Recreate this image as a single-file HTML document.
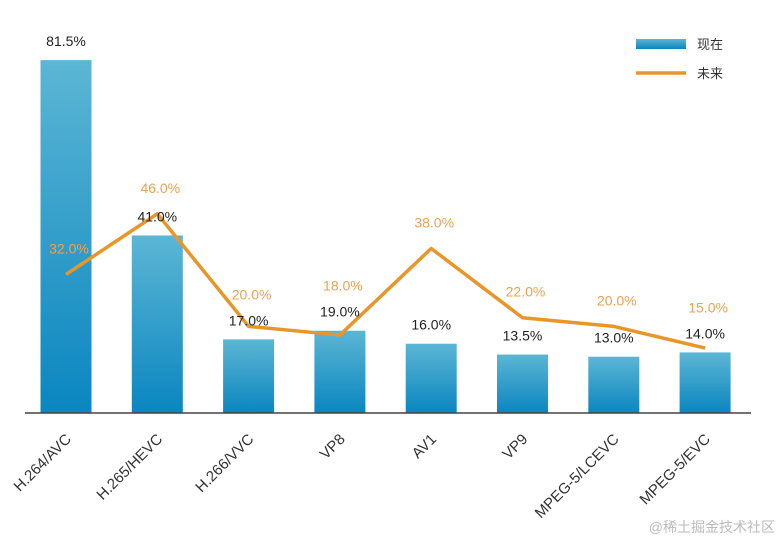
<!DOCTYPE html>
<html><head><meta charset="utf-8"><style>
body{margin:0;background:#fff;width:778px;height:541px;overflow:hidden;font-family:"Liberation Sans","Noto Sans CJK SC",sans-serif}
</style></head><body>
<svg width="778" height="541">
<defs><linearGradient id="g" x1="0" y1="0" x2="0" y2="1"><stop offset="0" stop-color="#5cb6d4"/><stop offset="1" stop-color="#0a86c0"/></linearGradient></defs>
<g id="bars"></g><g id="line"></g><g id="labels"></g>
<line x1="25" y1="413" x2="751" y2="413" stroke="#444" stroke-width="1.5"/>
<g>
<rect x="636" y="39" width="50" height="10" fill="url(#g)"/>
<text x="697" y="49" font-size="13" fill="#333">现在</text>
<line x1="636" y1="73" x2="686" y2="73" stroke="#e8962a" stroke-width="3.5"/>
<text x="697" y="78" font-size="13" fill="#333">未来</text>
</g>
<text x="775" y="532" font-size="14" fill="#bbb" text-anchor="end">@稀土掘金技术社区</text>
</svg>
<script>
const categories=["H.264/AVC","H.265/HEVC","H.266/VVC","VP8","AV1","VP9","MPEG-5/LCEVC","MPEG-5/EVC"];
const nowValues=[81.5,41.0,17.0,19.0,16.0,13.5,13.0,14.0];
const futureValues=[32.0,46.0,20.0,18.0,38.0,22.0,20.0,15.0];
const NS="http://www.w3.org/2000/svg";
const x=i=>66+i*91.3, y=v=>413-v*4.33;
function mk(t,a,p){const e=document.createElementNS(NS,t);for(const k in a)e.setAttribute(k,a[k]);p.appendChild(e);return e;}
const B=document.getElementById('bars'),L=document.getElementById('line'),T=document.getElementById('labels');
nowValues.forEach((v,i)=>{
 const r=mk('rect',{x:x(i)-25.5,y:y(v),width:51,height:413-y(v),fill:'url(#g)'},B);
 
 
 const t=mk('text',{x:x(i),y:y(v)-14,'font-size':14,fill:'#222','text-anchor':'middle'},T);
 t.textContent=v.toFixed(1)+'%';
 
 
 const c=mk('text',{'font-size':15,fill:'#333','text-anchor':'end',transform:`translate(${x(i)+6},${440}) rotate(-45)`},T);
 c.textContent=categories[i];
 
 
});
const pl=mk('polyline',{points:futureValues.map((v,i)=>x(i)+','+y(v)).join(' '),fill:'none',stroke:'#e8962a','stroke-width':3.5,'stroke-linejoin':'round'},L);


futureValues.forEach((v,i)=>{
 let ly=y(v)-21;
 const by=y(nowValues[i])-14;
 if(Math.abs(ly-by)<26) ly=Math.min(ly,by-26);
 const t=mk('text',{x:x(i)+3,y:ly,'font-size':14,fill:'#f0a050','text-anchor':'middle'},T);
 t.textContent=v.toFixed(1)+'%';
 
 
});
</script>
</body></html>
